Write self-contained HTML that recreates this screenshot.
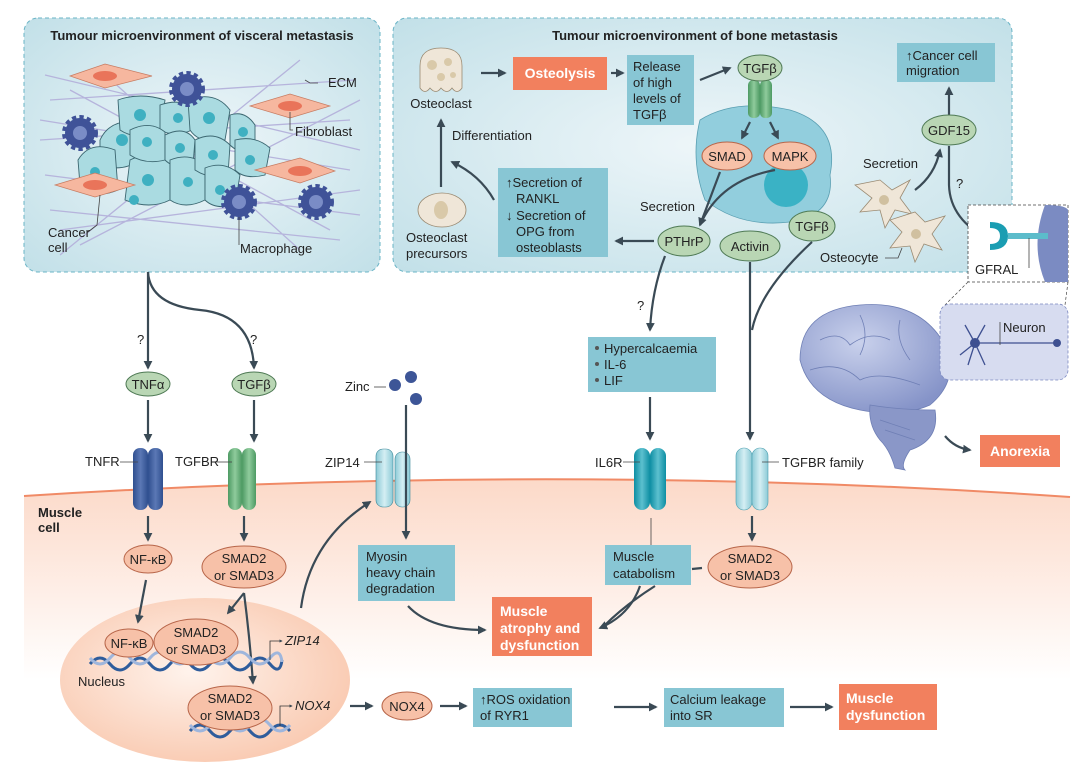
<!DOCTYPE html>
<html><head><meta charset="utf-8"><style>
html,body{margin:0;padding:0;background:#fff;}
svg{display:block;font-family:"Liberation Sans",sans-serif;}
.t{font-size:13px;fill:#222;}
.b{font-weight:bold;}
.w{fill:#fff;font-weight:bold;font-size:14px;}
.ln{stroke:#3a4a55;stroke-width:2.2;fill:none;}
.thin{stroke:#444;stroke-width:0.8;fill:none;}
.bx{fill:#88c6d4;}
.ob{fill:#f2805e;}
.ge{fill:#b9d6b4;stroke:#4f7a55;stroke-width:1;}
.se{fill:#f7c1a8;stroke:#b8664a;stroke-width:1;}
</style></head><body>
<svg width="1080" height="764" viewBox="0 0 1080 764">
<defs>
<marker id="a" viewBox="0 0 10 10" refX="8" refY="5" markerWidth="4" markerHeight="4" orient="auto"><path d="M0,0L10,5L0,10z" fill="#3a4a55"/></marker>
<linearGradient id="mus" x1="0" y1="0" x2="0" y2="1"><stop offset="0" stop-color="#fcd9c8"/><stop offset="1" stop-color="#fff"/></linearGradient>
<radialGradient id="box" cx="0.5" cy="0.5" r="0.7"><stop offset="0" stop-color="#eef6f9"/><stop offset="1" stop-color="#c2e0e8"/></radialGradient>
<radialGradient id="nuc" cx="0.45" cy="0.45" r="0.6"><stop offset="0" stop-color="#fff3ec"/><stop offset="1" stop-color="#f9c9b0"/></radialGradient>
<linearGradient id="rb" x1="0" x2="1"><stop offset="0" stop-color="#2f4f8f"/><stop offset=".5" stop-color="#5b78b5"/><stop offset="1" stop-color="#2f4f8f"/></linearGradient>
<linearGradient id="rg" x1="0" x2="1"><stop offset="0" stop-color="#4d9a63"/><stop offset=".5" stop-color="#8fcb9c"/><stop offset="1" stop-color="#4d9a63"/></linearGradient>
<linearGradient id="rc" x1="0" x2="1"><stop offset="0" stop-color="#0e8ea3"/><stop offset=".5" stop-color="#5cc0cf"/><stop offset="1" stop-color="#0e8ea3"/></linearGradient>
<linearGradient id="rl" x1="0" x2="1"><stop offset="0" stop-color="#8ccad6"/><stop offset=".5" stop-color="#d4eef3"/><stop offset="1" stop-color="#8ccad6"/></linearGradient>
<radialGradient id="brain" cx="0.4" cy="0.35" r="0.7"><stop offset="0" stop-color="#c9d1ec"/><stop offset="1" stop-color="#8593c8"/></radialGradient>
</defs>

<!-- muscle cell -->
<path d="M24,496 Q560,462 1070,497 L1070,680 L24,680 Z" fill="url(#mus)"/>
<path d="M24,496 Q560,462 1070,497" stroke="#f08a66" stroke-width="2" fill="none"/>
<text class="t b" x="38" y="517">Muscle</text><text class="t b" x="38" y="532">cell</text>
<ellipse cx="205" cy="680" rx="145" ry="82" fill="url(#nuc)"/>

<!-- visceral box -->
<rect x="24" y="18" width="356" height="254" rx="14" fill="url(#box)" stroke="#6ab4c6" stroke-dasharray="4,3"/>
<text class="t b" x="202" y="40" text-anchor="middle" font-size="13.5">Tumour microenvironment of visceral metastasis</text>
<g stroke="#b6b4dc" stroke-width="1.3">
<path d="M45,75 L360,150 M50,100 L355,80 M40,140 L350,120 M60,230 L360,190 M50,210 L340,240 M70,90 L330,230 M80,245 L360,100 M45,175 L360,215 M100,70 L300,250 M40,120 L350,170 M60,255 L300,60"/>
</g>
<g fill="#aadbe1" stroke="#3b6670" stroke-width="0.9">
<path d="M100,140 Q110,118 140,122 L150,150 Q130,175 100,165 Z"/>
<path d="M78,160 Q90,140 115,150 L118,190 Q95,200 80,185 Z"/>
<path d="M118,100 Q140,92 165,100 L160,135 Q135,140 120,130 Z"/>
<path d="M160,105 Q180,98 195,108 L192,130 Q175,138 160,130 Z"/>
<path d="M188,100 Q215,90 230,110 L225,140 Q200,145 190,130 Z"/>
<path d="M130,160 Q150,150 170,160 L170,200 Q150,210 125,200 Z"/>
<path d="M130,130 Q150,120 165,132 L165,160 Q145,165 130,155 Z"/>
<path d="M165,135 Q185,125 195,140 L193,165 Q175,170 165,160 Z"/>
<path d="M170,160 Q190,152 205,165 L205,200 Q185,210 170,200 Z"/>
<path d="M195,140 Q215,130 230,145 L228,175 Q210,180 195,170 Z"/>
<path d="M230,115 Q245,110 255,125 L255,150 Q240,155 230,145 Z"/>
<path d="M235,140 Q255,135 270,148 L265,175 Q245,180 235,170 Z"/>
<path d="M205,168 Q225,160 240,175 L235,205 Q215,210 205,200 Z"/>
</g>
<g fill="#3fb0c1">
<circle cx="122" cy="140" r="6"/><circle cx="95" cy="172" r="5"/><circle cx="140" cy="115" r="6"/><circle cx="178" cy="118" r="5"/><circle cx="209" cy="118" r="6"/><circle cx="148" cy="180" r="6"/><circle cx="147" cy="142" r="5"/><circle cx="180" cy="148" r="5"/><circle cx="188" cy="182" r="5"/><circle cx="213" cy="155" r="5"/><circle cx="243" cy="132" r="5"/><circle cx="250" cy="160" r="5"/><circle cx="220" cy="190" r="5"/><circle cx="134" cy="200" r="5"/>
</g>
<g fill="#f6b79f" stroke="#c77c62" stroke-width="0.7">
<path d="M70,76 L105,64 L152,76 L105,88 Z"/><path d="M250,106 L290,94 L330,106 L290,118 Z"/>
<path d="M255,170 L300,158 L335,171 L300,183 Z"/><path d="M55,185 L95,173 L135,185 L95,197 Z"/>
</g>
<g fill="#e9745a"><ellipse cx="105" cy="76" rx="12" ry="5"/><ellipse cx="290" cy="106" rx="12" ry="5"/><ellipse cx="300" cy="171" rx="12" ry="5"/><ellipse cx="95" cy="185" rx="12" ry="5"/></g>
<g fill="#3f5298" stroke="#3f5298" stroke-width="6" stroke-dasharray="4,3">
<circle cx="187" cy="89" r="15"/><circle cx="80" cy="133" r="15"/><circle cx="239" cy="202" r="15"/><circle cx="316" cy="202" r="15"/>
</g>
<g fill="#7a8cc6"><circle cx="187" cy="89" r="7"/><circle cx="80" cy="133" r="7"/><circle cx="239" cy="202" r="7"/><circle cx="316" cy="202" r="7"/></g>
<g class="thin"><path d="M318,83 L310,83 L305,80"/><path d="M290,112 L290,130 L293,130"/><path d="M239,217 L239,245"/><path d="M100,195 L97,225 L88,232"/></g>
<text class="t" x="328" y="87">ECM</text><text class="t" x="295" y="136">Fibroblast</text>
<text class="t" x="48" y="237">Cancer</text><text class="t" x="48" y="252">cell</text>
<text class="t" x="240" y="253">Macrophage</text>

<!-- bone box -->
<rect x="393" y="18" width="619" height="254" rx="14" fill="url(#box)" stroke="#6ab4c6" stroke-dasharray="4,3"/>
<text class="t b" x="695" y="40" text-anchor="middle" font-size="13.5">Tumour microenvironment of bone metastasis</text>
<path d="M420,88 L420,66 Q420,48 441,48 Q462,48 462,66 L462,88 Q457,95 452,88 Q447,95 441,88 Q436,95 430,88 Q425,95 420,88Z" fill="#efe6d8" stroke="#9a8a72" stroke-width="0.8"/>
<g fill="#d9c9a9"><circle cx="432" cy="65" r="5"/><circle cx="448" cy="62" r="4"/><circle cx="441" cy="77" r="4"/><circle cx="453" cy="75" r="3"/></g>
<text class="t" x="441" y="108" text-anchor="middle">Osteoclast</text>
<path class="ln" d="M481,73 L505,73" marker-end="url(#a)"/>
<rect class="ob" x="513" y="57" width="94" height="33"/><text class="w" x="560" y="78" text-anchor="middle">Osteolysis</text>
<path class="ln" d="M611,73 L623,73" marker-end="url(#a)"/>
<rect class="bx" x="627" y="55" width="67" height="70"/>
<text class="t" x="633" y="71">Release</text><text class="t" x="633" y="87">of high</text><text class="t" x="633" y="103">levels of</text><text class="t" x="633" y="119">TGFβ</text>
<path class="ln" d="M700,80 L730,68" marker-end="url(#a)"/>
<path d="M700,120 Q735,98 790,110 Q840,125 830,175 Q835,215 790,222 Q740,228 705,200 Q690,160 700,120Z" fill="#92cedd" stroke="#5a9fb2" stroke-width="0.8"/>
<circle cx="786" cy="185" r="22" fill="#3ab2c5"/>
<rect x="748" y="80" width="12" height="38" rx="5" fill="url(#rg)"/><rect x="760" y="80" width="12" height="38" rx="5" fill="url(#rg)"/>
<ellipse class="ge" cx="760" cy="68" rx="22" ry="13"/><text class="t" x="760" y="73" text-anchor="middle">TGFβ</text>
<path class="ln" d="M750,122 L742,138" marker-end="url(#a)"/><path class="ln" d="M770,122 L778,138" marker-end="url(#a)"/>
<ellipse class="se" cx="727" cy="156" rx="25" ry="14"/><text class="t" x="727" y="161" text-anchor="middle">SMAD</text>
<ellipse class="se" cx="790" cy="156" rx="26" ry="14"/><text class="t" x="790" y="161" text-anchor="middle">MAPK</text>
<path class="ln" d="M720,172 L700,225" marker-end="url(#a)" stroke-width="1.8"/>
<path class="ln" d="M775,170 Q720,180 700,225" stroke-width="1.8"/>
<text class="t" x="640" y="211">Secretion</text>
<ellipse class="ge" cx="684" cy="241" rx="26" ry="15"/><text class="t" x="684" y="246" text-anchor="middle">PTHrP</text>
<ellipse class="ge" cx="750" cy="246" rx="30" ry="15"/><text class="t" x="750" y="251" text-anchor="middle">Activin</text>
<ellipse class="ge" cx="812" cy="226" rx="23" ry="15"/><text class="t" x="812" y="231" text-anchor="middle">TGFβ</text>
<path class="ln" d="M654,241 L616,241" marker-end="url(#a)"/>
<rect class="bx" x="498" y="168" width="110" height="89"/>
<text class="t" x="506" y="187">↑Secretion of</text><text class="t" x="516" y="203">RANKL</text><text class="t" x="506" y="220">↓ Secretion of</text><text class="t" x="516" y="236">OPG from</text><text class="t" x="516" y="252">osteoblasts</text>
<path class="ln" d="M494,200 Q480,175 452,162" marker-end="url(#a)"/>
<path class="ln" d="M441,187 L441,120" marker-end="url(#a)"/>
<text class="t" x="452" y="140">Differentiation</text>
<ellipse cx="442" cy="210" rx="24" ry="17" fill="#efe6d8" stroke="#9a8a72" stroke-width="0.8"/><ellipse cx="441" cy="210" rx="7" ry="9" fill="#d9c9a9"/>
<text class="t" x="406" y="242">Osteoclast</text><text class="t" x="406" y="258">precursors</text>
<rect class="bx" x="897" y="43" width="98" height="39"/>
<text class="t" x="906" y="60">↑Cancer cell</text><text class="t" x="906" y="75">migration</text>
<path class="ln" d="M949,116 L949,88" marker-end="url(#a)"/>
<ellipse class="ge" cx="949" cy="130" rx="27" ry="15"/><text class="t" x="949" y="135" text-anchor="middle">GDF15</text>
<text class="t" x="863" y="168">Secretion</text>
<path class="ln" d="M915,190 Q935,175 940,150" marker-end="url(#a)"/>
<g fill="#efe6d8" stroke="#9a8a72" stroke-width="0.8">
<path d="M880,180 L892,190 L910,180 L900,198 L912,214 L895,210 L885,228 L880,210 L860,212 L872,198 L855,185 Z"/>
<path d="M915,212 L925,222 L945,216 L932,234 L942,250 L924,244 L915,262 L910,246 L890,248 L902,232 L890,220 Z"/>
</g>
<circle cx="884" cy="200" r="5" fill="#d0c0a0"/><circle cx="916" cy="234" r="5" fill="#d0c0a0"/>
<text class="t" x="820" y="262">Osteocyte</text><path class="thin" d="M885,258 L898,258 L902,248"/>
<text class="t" x="956" y="188">?</text>
<path class="ln" d="M949,146 L949,185 Q950,220 990,240" marker-end="url(#a)"/>
<!-- GFRAL inset -->
<rect x="968" y="205" width="100" height="77" fill="#fff" stroke="#444" stroke-dasharray="3,2" stroke-width="0.8"/>
<path d="M1045,205 Q1066,205 1068,210 L1068,282 L1045,282 Q1030,245 1045,205Z" fill="#7b8bc2"/>
<path d="M990,222 Q1008,222 1008,236 Q1008,250 990,250 L990,244 Q1000,244 1000,236 Q1000,228 990,228Z" fill="#1a9db2"/>
<rect x="1008" y="233" width="40" height="6" fill="#5cbccb"/>
<text class="t" x="975" y="274">GFRAL</text>
<path class="thin" d="M1029,238 L1029,268"/>
<path d="M968,282 L945,305 M1068,282 L1065,305" stroke="#444" stroke-dasharray="3,2" stroke-width="0.7"/>

<!-- brain -->
<path d="M800,360 Q800,310 860,305 Q920,300 945,345 Q960,380 930,405 Q900,418 860,410 Q810,400 800,360Z" fill="url(#brain)" stroke="#6f7fb5" stroke-width="0.8"/>
<path d="M870,405 Q900,410 935,410 Q940,440 910,450 Q900,465 905,470 L895,468 Q890,450 880,440 Q868,425 870,405Z" fill="#8a97c8" stroke="#6f7fb5" stroke-width="0.8"/>
<g stroke="#6f7fb5" stroke-width="0.8" fill="none"><path d="M820,340 Q840,330 850,345 Q870,330 890,340"/><path d="M810,370 Q840,360 860,380 Q880,370 920,385"/><path d="M860,315 Q870,335 860,355"/><path d="M900,320 Q895,340 910,360"/><path d="M880,420 L910,430 M885,430 L915,440"/></g>
<rect x="940" y="304" width="128" height="76" rx="10" fill="#d7dcf0" stroke="#7b88c0" stroke-dasharray="3,2" stroke-width="0.8"/>
<g stroke="#3e5091" stroke-width="1.3" fill="none"><path d="M975,343 L1055,343"/><path d="M975,343 L965,325 M975,343 L985,325 M975,343 L960,355 M975,343 L968,365 M975,343 L985,365"/></g>
<circle cx="975" cy="343" r="5" fill="#3e5091"/><circle cx="1057" cy="343" r="4" fill="#3e5091"/>
<text class="t" x="1003" y="332">Neuron</text><path class="thin" d="M1000,322 L1000,345"/>
<path class="ln" d="M945,436 Q955,448 970,450" marker-end="url(#a)"/>
<rect class="ob" x="980" y="435" width="80" height="32"/><text class="w" x="1020" y="456" text-anchor="middle">Anorexia</text>

<!-- left pathway -->
<path class="ln" d="M148,272 L148,368" marker-end="url(#a)"/>
<path class="ln" d="M148,272 Q150,305 200,310 Q252,315 254,368" marker-end="url(#a)"/>
<text class="t" x="137" y="344">?</text><text class="t" x="250" y="344">?</text>
<ellipse class="ge" cx="148" cy="384" rx="22" ry="12"/><text class="t" x="148" y="389" text-anchor="middle">TNFα</text>
<ellipse class="ge" cx="254" cy="384" rx="22" ry="12"/><text class="t" x="254" y="389" text-anchor="middle">TGFβ</text>
<path class="ln" d="M148,400 L148,441" marker-end="url(#a)"/><path class="ln" d="M254,400 L254,441" marker-end="url(#a)"/>
<rect x="133" y="448" width="15" height="62" rx="7" fill="url(#rb)"/><rect x="148" y="448" width="15" height="62" rx="7" fill="url(#rb)"/>
<rect x="228" y="448" width="14" height="62" rx="7" fill="url(#rg)"/><rect x="242" y="448" width="14" height="62" rx="7" fill="url(#rg)"/>
<text class="t" x="85" y="466">TNFR</text><path class="thin" d="M120,462 L138,462"/>
<text class="t" x="175" y="466">TGFBR</text><path class="thin" d="M216,462 L232,462"/>
<path class="ln" d="M148,516 L148,540" marker-end="url(#a)"/><path class="ln" d="M244,516 L244,540" marker-end="url(#a)"/>
<ellipse class="se" cx="148" cy="559" rx="24" ry="14"/><text class="t" x="148" y="564" text-anchor="middle">NF-κB</text>
<ellipse class="se" cx="244" cy="567" rx="42" ry="21"/><text class="t" x="244" y="563" text-anchor="middle">SMAD2</text><text class="t" x="244" y="580" text-anchor="middle">or SMAD3</text>
<path class="ln" d="M146,580 L138,622" marker-end="url(#a)"/>
<path class="ln" d="M244,593 L228,613" marker-end="url(#a)"/>
<path class="ln" d="M244,593 Q250,640 253,683" marker-end="url(#a)"/>
<!-- DNA -->
<g stroke="#2f5d9c" stroke-width="3" fill="none">
<path d="M90,664 Q100,652 110,664 T130,664 T150,664 T170,664 T190,664 T210,664 T230,664 T250,664 T270,664 T282,660"/>
<path d="M190,731 Q200,719 210,731 T230,731 T250,731 T270,731 T290,731"/>
</g>
<g stroke="#9fb6dc" stroke-width="3" fill="none">
<path d="M90,658 Q100,670 110,658 T130,658 T150,658 T170,658 T190,658 T210,658 T230,658 T250,658 T270,658 T282,662"/>
<path d="M190,725 Q200,737 210,725 T230,725 T250,725 T270,725 T290,725"/>
</g>
<ellipse class="se" cx="129" cy="643" rx="24" ry="14"/><text class="t" x="129" y="648" text-anchor="middle">NF-κB</text>
<ellipse class="se" cx="196" cy="642" rx="42" ry="23"/><text class="t" x="196" y="637" text-anchor="middle">SMAD2</text><text class="t" x="196" y="654" text-anchor="middle">or SMAD3</text>
<text class="t" x="78" y="686">Nucleus</text>
<path d="M270,660 L270,641 L282,641" stroke="#333" stroke-width="0.8" fill="none" marker-end="url(#a)"/>
<text class="t" x="285" y="645" font-style="italic">ZIP14</text>
<ellipse class="se" cx="230" cy="708" rx="42" ry="22"/><text class="t" x="230" y="703" text-anchor="middle">SMAD2</text><text class="t" x="230" y="720" text-anchor="middle">or SMAD3</text>
<path d="M280,726 L280,706 L292,706" stroke="#333" stroke-width="0.8" fill="none" marker-end="url(#a)"/>
<text class="t" x="295" y="710" font-style="italic">NOX4</text>
<path class="ln" d="M350,706 L372,706" marker-end="url(#a)"/>
<ellipse class="se" cx="407" cy="706" rx="25" ry="14"/><text class="t" x="407" y="711" text-anchor="middle">NOX4</text>
<path class="ln" d="M440,706 L466,706" marker-end="url(#a)"/>
<rect class="bx" x="473" y="688" width="99" height="39"/><text class="t" x="480" y="704">↑ROS oxidation</text><text class="t" x="480" y="720">of RYR1</text>
<path class="ln" d="M614,707 L656,707" marker-end="url(#a)"/>
<rect class="bx" x="664" y="688" width="120" height="39"/><text class="t" x="670" y="704">Calcium leakage</text><text class="t" x="670" y="720">into SR</text>
<path class="ln" d="M790,707 L832,707" marker-end="url(#a)"/>
<rect class="ob" x="839" y="684" width="98" height="46"/><text class="w" x="846" y="703">Muscle</text><text class="w" x="846" y="720">dysfunction</text>
<path class="ln" d="M301,608 Q310,540 370,502" marker-end="url(#a)"/>

<!-- zinc / ZIP14 -->
<g fill="#3d5597"><circle cx="395" cy="385" r="6"/><circle cx="411" cy="377" r="6"/><circle cx="416" cy="399" r="6"/></g>
<text class="t" x="345" y="391">Zinc</text><path class="thin" d="M374,387 L386,387"/>
<rect x="376" y="449" width="17" height="58" rx="7" fill="url(#rl)" stroke="#3a8798" stroke-width="0.6"/><rect x="395" y="452" width="15" height="55" rx="7" fill="url(#rl)" stroke="#3a8798" stroke-width="0.6"/>
<text class="t" x="325" y="467">ZIP14</text><path class="thin" d="M364,462 L382,462"/>
<path class="ln" d="M406,405 L406,538" marker-end="url(#a)"/>
<rect class="bx" x="358" y="545" width="97" height="56"/><text class="t" x="366" y="561">Myosin</text><text class="t" x="366" y="577">heavy chain</text><text class="t" x="366" y="593">degradation</text>
<path class="ln" d="M408,606 Q430,630 485,630" marker-end="url(#a)"/>
<rect class="ob" x="492" y="597" width="100" height="59"/><text class="w" x="500" y="616">Muscle</text><text class="w" x="500" y="633">atrophy and</text><text class="w" x="500" y="650">dysfunction</text>

<!-- right pathway -->
<path class="ln" d="M665,256 Q652,290 650,330" marker-end="url(#a)"/>
<text class="t" x="637" y="310">?</text>
<rect class="bx" x="588" y="337" width="128" height="55"/>
<g fill="#555"><circle cx="597" cy="348" r="2"/><circle cx="597" cy="364" r="2"/><circle cx="597" cy="380" r="2"/></g>
<text class="t" x="604" y="353">Hypercalcaemia</text><text class="t" x="604" y="369">IL-6</text><text class="t" x="604" y="385">LIF</text>
<path class="ln" d="M650,397 L650,439" marker-end="url(#a)"/>
<path class="ln" d="M750,262 L750,439" marker-end="url(#a)"/>
<path class="ln" d="M812,242 Q760,290 752,330"/>
<rect x="634" y="448" width="16" height="62" rx="8" fill="url(#rc)"/><rect x="650" y="448" width="16" height="62" rx="8" fill="url(#rc)"/>
<rect x="736" y="448" width="16" height="62" rx="8" fill="url(#rl)" stroke="#4c9fb0" stroke-width="0.6"/><rect x="752" y="448" width="16" height="62" rx="8" fill="url(#rl)" stroke="#4c9fb0" stroke-width="0.6"/>
<text class="t" x="595" y="467">IL6R</text><path class="thin" d="M623,462 L640,462"/>
<text class="t" x="782" y="467">TGFBR family</text><path class="thin" d="M762,462 L779,462"/>
<path class="thin" d="M651,518 L651,545" stroke="#3a4a55" stroke-width="2"/>
<rect class="bx" x="605" y="545" width="86" height="40"/><text class="t" x="613" y="561">Muscle</text><text class="t" x="613" y="578">catabolism</text>
<path class="ln" d="M752,516 L752,540" marker-end="url(#a)"/>
<ellipse class="se" cx="750" cy="567" rx="42" ry="21"/><text class="t" x="750" y="563" text-anchor="middle">SMAD2</text><text class="t" x="750" y="580" text-anchor="middle">or SMAD3</text>
<path class="ln" d="M692,569 L702,568" stroke-width="1.5"/>
<path class="ln" d="M640,586 Q630,615 600,628" marker-end="url(#a)"/>
<path class="ln" d="M655,586 Q625,605 605,625"/>
</svg>
</body></html>
